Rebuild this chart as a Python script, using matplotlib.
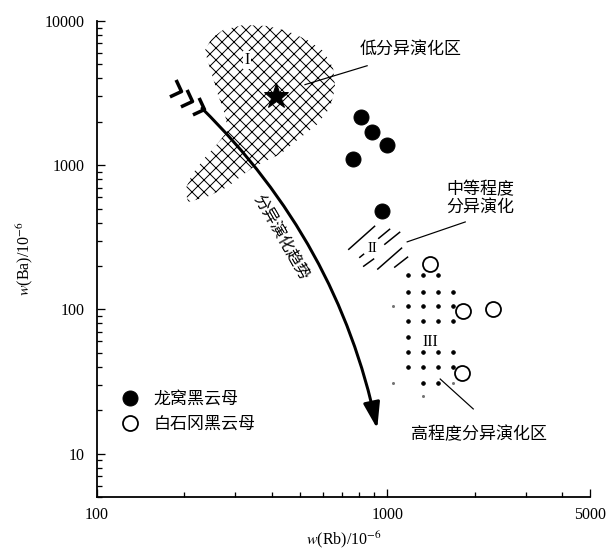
import numpy as np
import matplotlib
matplotlib.use("Agg")
import matplotlib.pyplot as plt
from matplotlib.patches import Polygon, FancyArrowPatch
from matplotlib.path import Path
from matplotlib.markers import MarkerStyle
from matplotlib.lines import Line2D
from matplotlib.ticker import LogLocator, NullFormatter, FixedLocator
from matplotlib.transforms import Affine2D

plt.rcParams['font.family'] = ['Liberation Serif', 'Noto Sans CJK SC']
plt.rcParams['mathtext.fontset'] = 'stix'
plt.rcParams['hatch.linewidth'] = 1.0
CJK = ['Noto Sans CJK SC', 'DejaVu Sans']

# 龙窝黑云母
longwo_rb = [810, 890, 1000, 765, 960]
longwo_ba = [2150, 1710, 1390, 1100, 485]

# 白石冈黑云母
baishi_rb = [1400, 1830, 2310, 1810]
baishi_ba = [208, 98, 101, 36.4]

# zone I (低分异演化区) outline
zone1_rb = [236, 249, 272, 319, 386, 452, 530, 602, 651, 662, 636, 574, 489, 428,
            386, 345, 311, 281, 239, 206, 201, 213, 236, 259, 283, 276, 261, 249, 239]
zone1_ba = [6310, 7635, 8667, 9385, 9237, 8531, 7396, 6212, 4743, 3451, 2512, 1918,
            1488, 1191, 1083, 969, 826, 705, 602, 556, 672, 867, 1136, 1396, 1743,
            2247, 3089, 4242, 5556]
star_rb, star_ba = 414, 3040

# zone II (中等程度分异演化) strokes
zone2_rb = [(734, 909), (801, 833), (931, 1024), (826, 902), (924, 1126), (977, 1109), (1057, 1181)]
zone2_ba = [(259, 380), (228, 243), (309, 362), (198, 225), (189, 268), (281, 345), (195, 232)]

# zone III (高程度分异演化区) dot grid, X = dot, o = faint dot
zone3_rb = [1050, 1180, 1330, 1500, 1690]
zone3_ba = [172, 133, 105, 83, 64, 50.5, 40, 31, 25]
zone3_mask = ["-XXX-", "-XXXX", "oXXXX", "-XXXX", "-X---",
              "-XXXX", "-XXXX", "o-XXo", "--o--"]

# trend arrow
trend_start = (230, 2480)
trend_end = (924, 14.9)
chevron_rb = [194, 213, 234]
chevron_ba = [3275, 2794, 2445]

fig = plt.figure(figsize=(611 / 72, 553 / 72), dpi=72)
ax = fig.add_axes([97 / 611, 56 / 553, 493 / 611, 476 / 553])
ax.set_xscale('log')
ax.set_yscale('log')
ax.set_xlim(100, 5000)
ax.set_ylim(5, 10000)

for side in ['top', 'right']:
    ax.spines[side].set_visible(False)
for side in ['left', 'bottom']:
    ax.spines[side].set_linewidth(1.8)

ax.xaxis.set_major_locator(FixedLocator([100, 1000, 5000]))
ax.set_xticklabels(['100', '1000', '5000'])
ax.yaxis.set_major_locator(FixedLocator([10, 100, 1000, 10000]))
ax.set_yticklabels(['10', '100', '1000', '10000'])
ax.xaxis.set_minor_locator(LogLocator(base=10, subs=np.arange(2, 10)))
ax.yaxis.set_minor_locator(LogLocator(base=10, subs=np.arange(2, 10)))
ax.xaxis.set_minor_formatter(NullFormatter())
ax.yaxis.set_minor_formatter(NullFormatter())
ax.tick_params(which='both', direction='in', width=1.3, labelsize=16)
ax.tick_params(which='major', length=8)
ax.tick_params(which='minor', length=5)
ax.tick_params(axis='y', pad=12)
ax.tick_params(axis='x', pad=10)

ax.set_xlabel('$w$(Rb)/10$^{-6}$', fontsize=16, labelpad=6)
ax.set_ylabel('$w$(Ba)/10$^{-6}$', fontsize=16, labelpad=10)

# zone I: cross-hatched area with star
zone1 = Polygon(np.column_stack([zone1_rb, zone1_ba]), closed=True,
                facecolor='none', edgecolor='black', linewidth=0, hatch='xx')
ax.add_patch(zone1)
ax.plot(star_rb, star_ba, marker='*', color='black', markersize=26, linestyle='none', zorder=4)
ax.text(329, 5383, 'I', fontsize=16, ha='center', va='center',
        bbox=dict(facecolor='white', edgecolor='none', pad=1))

# zone II strokes
for xs, ys in zip(zone2_rb, zone2_ba):
    ax.plot(xs, ys, color='black', lw=1.5, solid_capstyle='butt')
ax.text(888, 263, 'II', fontsize=15, ha='center', va='center',
        bbox=dict(facecolor='white', edgecolor='none', pad=0.5))

# zone III dots
for row, yv in zip(zone3_mask, zone3_ba):
    for flag, xv in zip(row, zone3_rb):
        if flag == 'X':
            ax.plot(xv, yv, 'o', color='black', markersize=3.5)
        elif flag == 'o':
            ax.plot(xv, yv, 'o', color='0.45', markersize=2)
ax.text(1406, 59.5, 'III', fontsize=16, ha='center', va='center')

# samples
ax.plot(longwo_rb, longwo_ba, 'o', color='black', markersize=15, linestyle='none', zorder=5)
ax.plot(baishi_rb, baishi_ba, 'o', markerfacecolor='white', markeredgecolor='black',
        markeredgewidth=1.8, markersize=15, linestyle='none', zorder=5)

# trend arrow with fletching
arrow = FancyArrowPatch(trend_start, trend_end, connectionstyle='arc3,rad=-0.15',
                        arrowstyle='-|>,head_length=22,head_width=7', mutation_scale=1,
                        lw=3, color='black', shrinkA=0, shrinkB=0, zorder=3)
ax.add_patch(arrow)
chevron = MarkerStyle(Path([(-1, 1), (0, 0), (-1, -1)],
                           [Path.MOVETO, Path.LINETO, Path.LINETO]),
                      transform=Affine2D().rotate_deg(-20), joinstyle='miter')
ax.plot(chevron_rb, chevron_ba, linestyle='none', marker=chevron, markersize=18,
        markerfacecolor='none', markeredgecolor='black', markeredgewidth=3.5)
ax.text(428, 314, '分异演化趋势', family=CJK, fontsize=16, rotation=-60,
        rotation_mode='anchor', ha='center', va='center')

# zone annotations
ax.text(1200, 6412, '低分异演化区', family=CJK, fontsize=17, ha='center', va='center')
ax.plot([521, 853], [3620, 4895], color='black', lw=1.2)
ax.text(2093, 592, '中等程度\n分异演化', family=CJK, fontsize=17, ha='center',
        va='center', linespacing=1.0)
ax.plot([1172, 1858], [294, 404], color='black', lw=1.2)
ax.text(2076, 13.7, '高程度分异演化区', family=CJK, fontsize=17, ha='center', va='center')
ax.plot([1523, 1980], [32.9, 20.4], color='black', lw=1.2)

# legend
handles = [
    Line2D([], [], marker='o', color='black', markersize=15, linestyle='none'),
    Line2D([], [], marker='o', markerfacecolor='white', markeredgecolor='black',
           markeredgewidth=1.8, markersize=15, linestyle='none'),
]
ax.legend(handles, ['龙窝黑云母', '白石冈黑云母'], loc='upper left',
          bbox_to_anchor=(0.049, 0.225), frameon=False, borderpad=0, borderaxespad=0,
          handlelength=1.0, handletextpad=0.9, labelspacing=0.4,
          prop={'family': CJK, 'size': 17})

fig.savefig('out.png', dpi=72)
